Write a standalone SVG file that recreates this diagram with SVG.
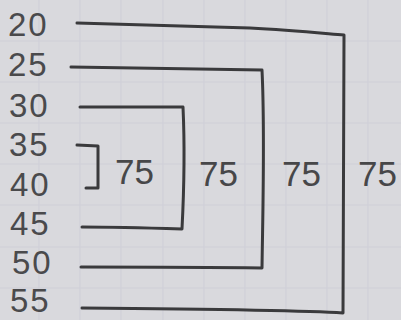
<svg xmlns="http://www.w3.org/2000/svg" width="401" height="320" viewBox="0 0 401 320">
<style>
.bg{fill:#d9d9dd}
.grid{stroke:#cfcfd7;stroke-width:1.1;fill:none}
.num{font-family:"Liberation Sans","DejaVu Sans",sans-serif;font-size:33px;letter-spacing:2px;fill:#4a4a4c}
.span{font-family:"Liberation Sans","DejaVu Sans",sans-serif;font-size:35px;fill:#474749}
.br{fill:none;stroke:#3a3a3c;stroke-width:3;stroke-linecap:round;stroke-linejoin:round}
</style>
<rect class="bg" x="0" y="0" width="401" height="320"/>
<g id="paper-grid" class="grid">
<path d="M39 0V320M80 0V320M121 0V320M163 0V320M204 0V320M245 0V320M286 0V320M327 0V320M368 0V320"/>
<path d="M0 41H401M0 82H401M0 123H401M0 164H401M0 205H401M0 247H401M0 288H401"/>
</g>
<g id="values">
<text id="v20" class="num" x="8" y="36">20</text>
<text id="v25" class="num" x="8" y="76">25</text>
<text id="v30" class="num" x="9" y="117">30</text>
<text id="v35" class="num" x="9" y="156">35</text>
<text id="v40" class="num" x="10" y="196">40</text>
<text id="v45" class="num" x="10" y="235">45</text>
<text id="v50" class="num" x="12" y="274">50</text>
<text id="v55" class="num" x="10" y="312">55</text>
</g>
<g id="connectors">
<path id="b1" class="br" d="M77 23 C150 25 200 27 250 28 C290 30 320 33 344 35 L343 313 C300 310 200 309 82 308"/>
<path id="b2" class="br" d="M71 67 C150 68 220 69 262 70 C265 130 263 200 262 268 C200 267 140 267 81 267"/>
<path id="b3" class="br" d="M80 107 L183 107 C185 150 184 190 182 229 C150 228 110 227 82 227"/>
<path id="b4" class="br" d="M77 145 L98 146 L98 188 L86 188"/>
</g>
<g id="spans">
<text id="s1" class="span" x="115" y="184">75</text>
<text id="s2" class="span" x="199" y="186">75</text>
<text id="s3" class="span" x="282" y="186">75</text>
<text id="s4" class="span" x="358" y="186">75</text>
</g>
</svg>
